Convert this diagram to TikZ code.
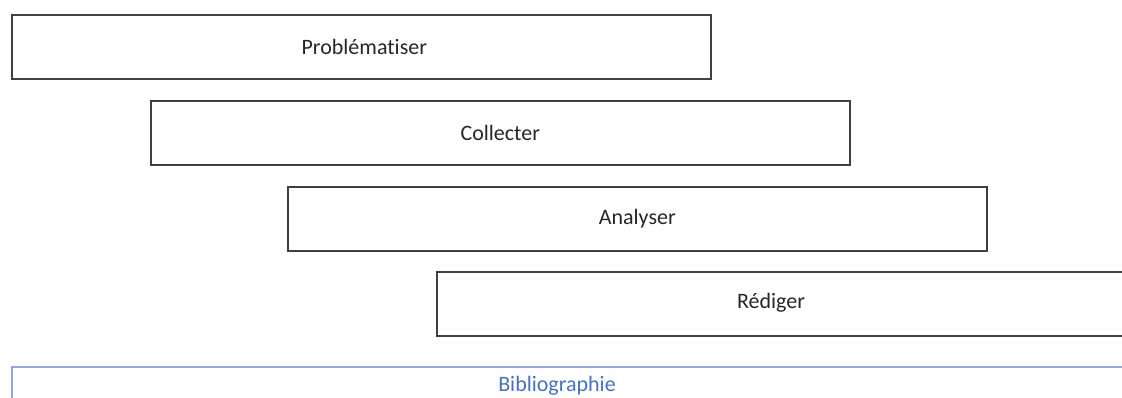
\documentclass[tikz,border=0pt]{standalone}
\usepackage{fontspec}
\setmainfont{Carlito}[Ligatures=NoCommon]
\definecolor{biblblue}{HTML}{4472C4}
\definecolor{biblline}{HTML}{8FAADC}
\tikzset{
  stagebox/.style={draw=black!75, line width=1.6pt, minimum width=699pt,
    minimum height=64pt, anchor=north west, inner sep=0pt},
  stagetext/.style={font=\fontsize{22}{26}\selectfont, text=black!85},
  biblbox/.style={draw=biblline, line width=1.6pt, minimum width=1140pt,
    minimum height=60pt, anchor=north west, inner sep=0pt}
}
\begin{document}
\begin{tikzpicture}[x=1pt,y=-1pt]
    \clip (0,0) rectangle (1122,397);
    \useasboundingbox (0,0) rectangle (1122,397);

    % Steps
    \node[stagebox] (probl) at (11,14) {};
    \node[stagetext] (probltxt) at ([xshift=3pt]probl.center) {Problématiser};

    \node[stagebox] (coll) at (150,100) {};
    \node[stagetext] (colltxt) at (coll.center) {Collecter};

    \node[stagebox] (anal) at (287,186) {};
    \node[stagetext] (analtxt) at (anal.center) {Analyser};

    \node[stagebox] (redig) at (436,271) {};
    \node[stagetext] (redigtxt) at (771,303) {Rédiger};

    % Bibliography
    \node[biblbox] (biblio) at (11,366) {};
    \node[stagetext, text=biblblue] (bibliotxt) at (557,386) {Bibliographie};
\end{tikzpicture}
\end{document}
